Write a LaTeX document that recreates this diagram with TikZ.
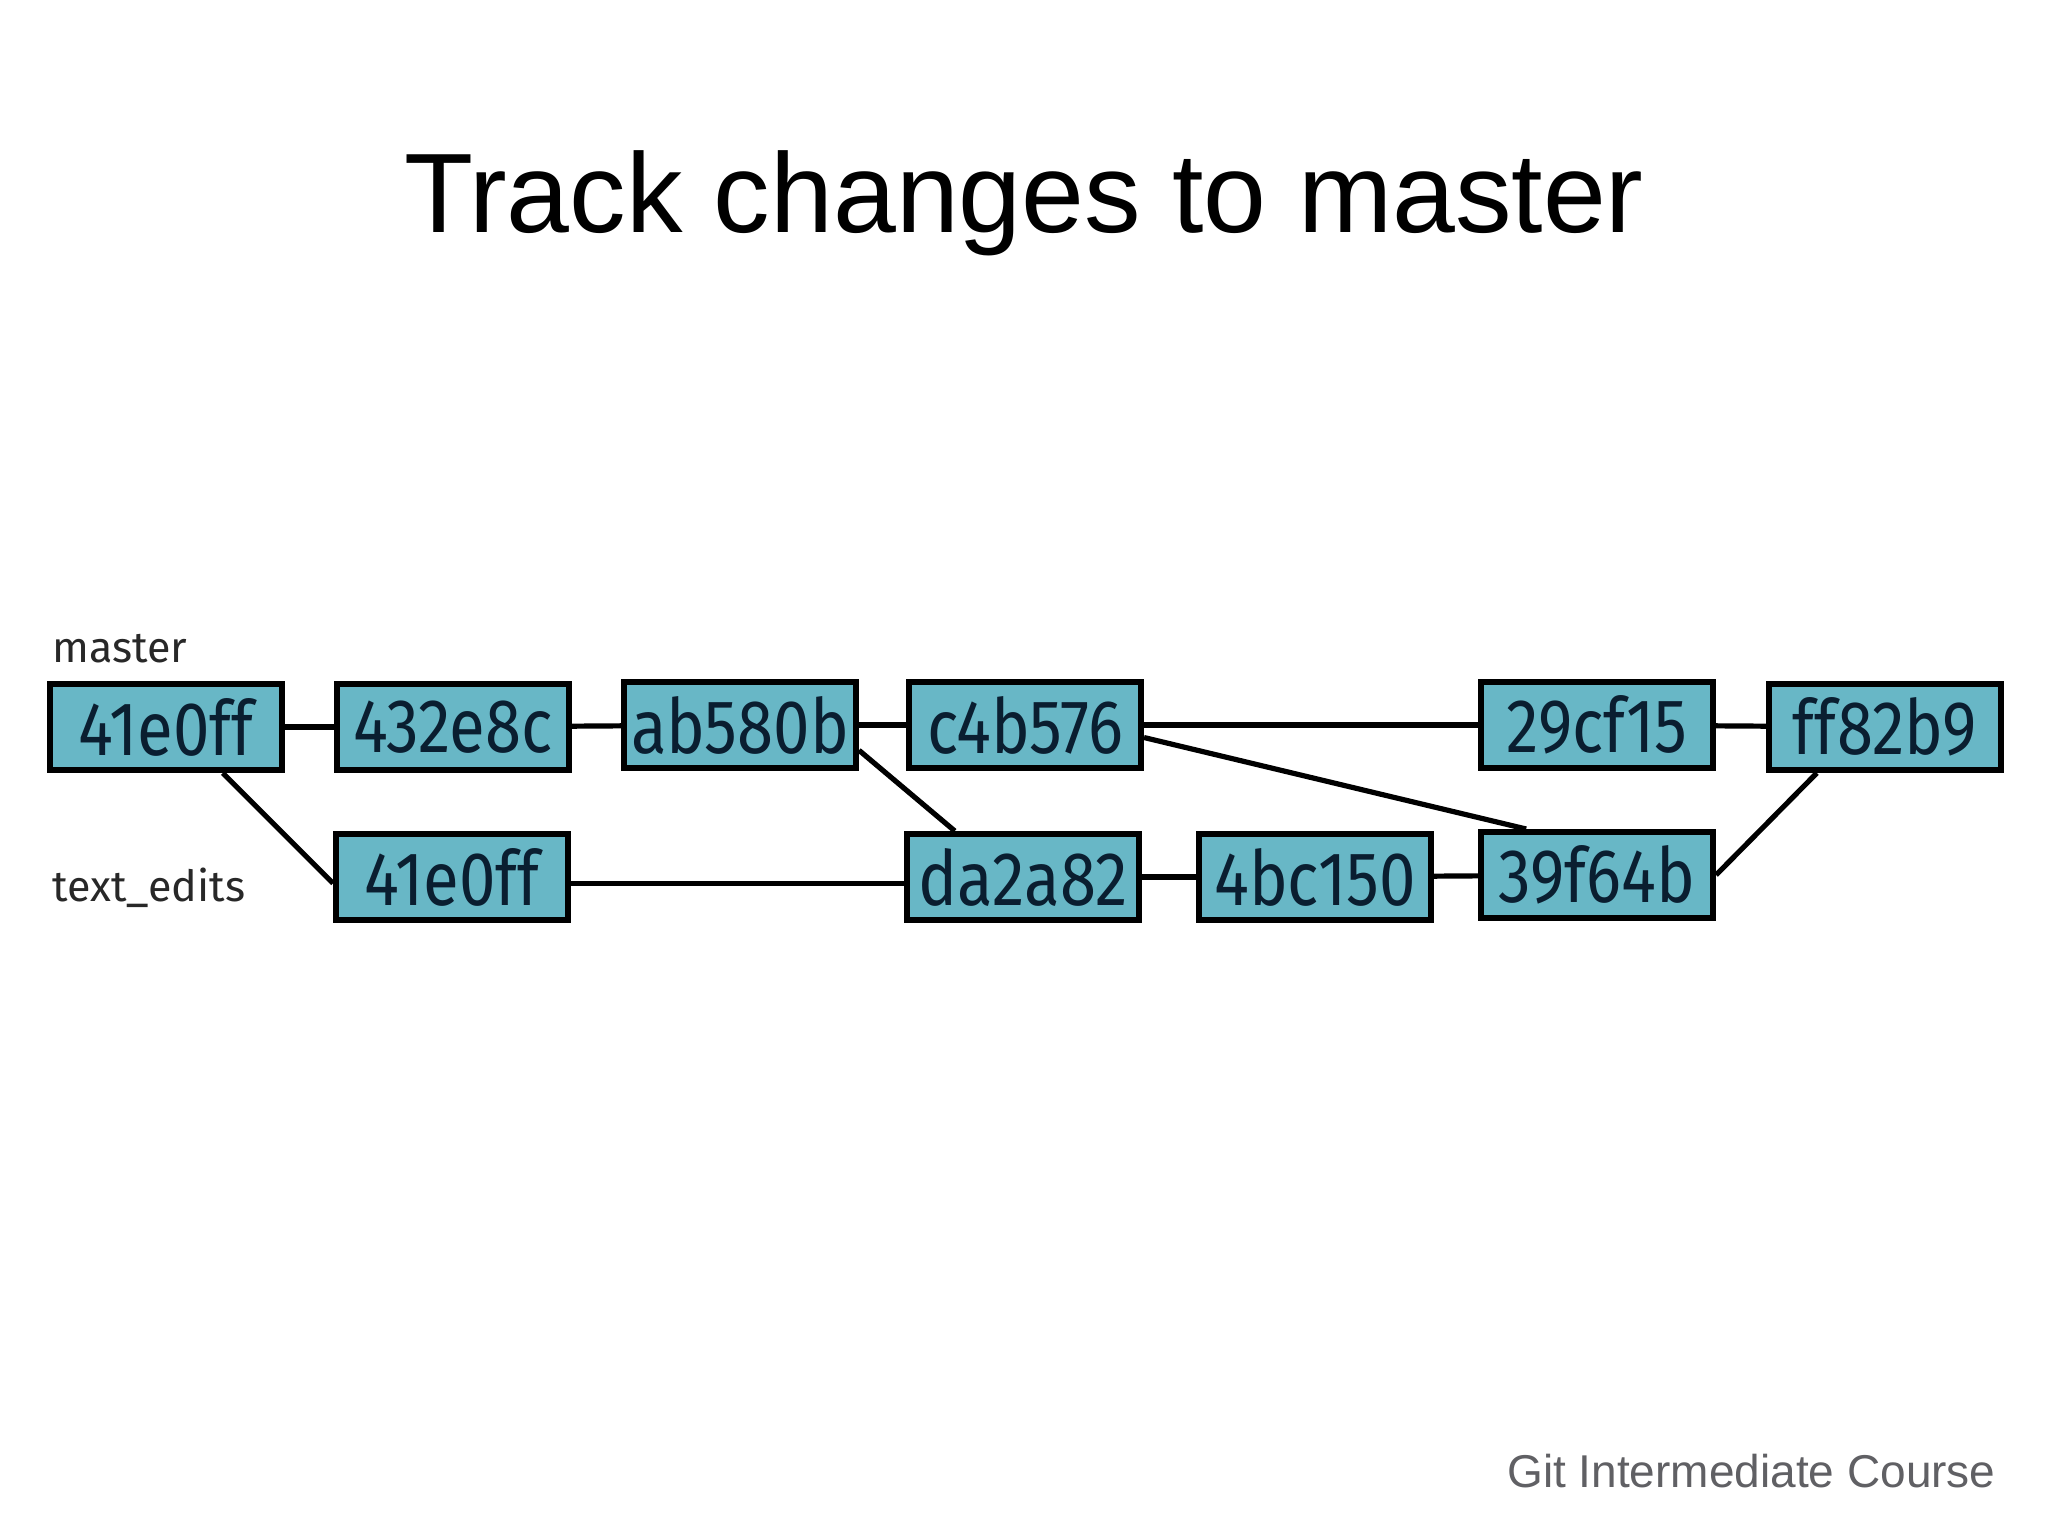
\documentclass[tikz,border=0pt]{standalone}
\usepackage{fontspec}
\setmainfont{Liberation Sans}
\newfontfamily\boxfont[FakeStretch=0.86]{Fira Sans}
\newfontfamily\lblfont{Fira Sans}
\definecolor{commitfill}{RGB}{104,183,198}
\definecolor{committext}{RGB}{10,30,48}
\definecolor{footgray}{RGB}{96,96,100}
\definecolor{lblgray}{RGB}{40,40,40}
\begin{document}
\begin{tikzpicture}[x=0.5pt,y=-0.5pt,
  commit/.style={draw=black, line width=3pt, fill=commitfill, text=committext,
    minimum width=116pt, minimum height=43pt, inner sep=0pt,
    font=\boxfont\fontsize{38}{40}\selectfont},
  link/.style={draw=black, line width=2.6pt},
  branchlbl/.style={anchor=base west, text=lblgray, inner sep=0pt,
    font=\lblfont\fontsize{21.5}{24}\selectfont}]
\useasboundingbox (0,0) rectangle (2048,1537);
\fill[white] (0,0) rectangle (2048,1537);

\node[anchor=base, inner sep=0pt, font=\fontsize{56.5}{64}\selectfont] (title) at (1024,232) {Track changes to master};

\node[branchlbl] (lmaster) at (52,662) {master};
\node[branchlbl] (ltext) at (52,901) {text\_edits};

\node[commit] (m1) at (166,727) {41e0ff};
\node[commit] (m2) at (453,727) {432e8c};
\node[commit] (m3) at (740,725) {ab580b};
\node[commit] (m4) at (1025,725) {c4b576};
\node[commit] (m5) at (1597,725) {29cf15};
\node[commit] (m6) at (1885,727) {ff82b9};

\node[commit] (t1) at (452,877) {41e0ff};
\node[commit] (t2) at (1023,877) {da2a82};
\node[commit] (t3) at (1315,877) {4bc150};
\node[commit] (t4) at (1597,875) {39f64b};

\draw[link] (m1) -- (m2);
\draw[link] (m2) -- (m3);
\draw[link] (m3) -- (m4);
\draw[link] (m4.east) -- (m5.west);
\draw[link] (m5) -- (m6);
\draw[link] (m1.-39) -- (t1.183);
\draw[link] (t1.-3) -- (t2.183);
\draw[link] (t2) -- (t3);
\draw[link] (t3) -- (t4);
\draw[link] (m3.-12) -- (t2.146);
\draw[link] (m4.-6) -- (t4.147);
\draw[link] (t4.east) -- (m6.214);

\node[anchor=base east, inner sep=0pt, text=footgray, font=\fontsize{23}{26}\selectfont] (foot) at (1996,1487) {Git Intermediate Course};
\end{tikzpicture}
\end{document}
